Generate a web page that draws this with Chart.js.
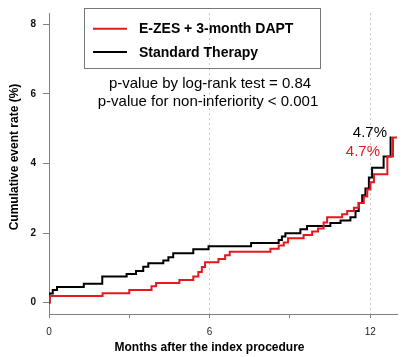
<!DOCTYPE html>
<html><head><meta charset="utf-8">
<script src="https://cdn.jsdelivr.net/npm/chart.js@4.4.1/dist/chart.umd.min.js"></script>
<style>html,body{margin:0;padding:0;background:#fff}#wrap{width:411px;height:357px;position:relative}</style>
</head><body><div id="wrap"><canvas id="c" width="411" height="357"></canvas></div>
<script>
const seriesNames = ['E-ZES + 3-month DAPT', 'Standard Therapy'];
const seriesColors = ['#e3191e', '#000000'];
const ezesMonths = [0, 0.03, 2.0, 3.0, 3.83, 4.0, 4.87, 5.39, 5.58, 5.71, 5.83, 6.33, 6.58, 6.75, 8.27, 8.58, 8.77, 8.93, 9.51, 9.83, 10.05, 10.26, 10.39, 10.95, 11.14, 11.39, 11.57, 11.76, 11.89, 12.01, 12.14, 12.64, 12.85, 13.0];
const ezesRate   = [0, 0.19, 0.27, 0.36, 0.47, 0.56, 0.65, 0.75, 0.88, 1.02, 1.16, 1.25, 1.36, 1.46, 1.55, 1.64, 1.73, 1.85, 1.94, 2.04, 2.13, 2.30, 2.45, 2.54, 2.63, 2.73, 2.86, 3.05, 3.25, 3.46, 3.69, 4.20, 4.75, 4.75];
const stdMonths  = [0, 0.02, 0.14, 0.30, 1.30, 1.99, 2.90, 3.25, 3.52, 3.71, 4.27, 4.46, 4.64, 5.39, 5.96, 7.55, 8.58, 8.70, 8.83, 9.39, 9.64, 10.51, 10.89, 11.26, 11.45, 11.57, 11.70, 11.82, 11.95, 12.07, 12.50, 12.76, 12.80];
const stdRate    = [0, 0.26, 0.36, 0.45, 0.54, 0.75, 0.82, 0.91, 1.03, 1.13, 1.21, 1.30, 1.42, 1.53, 1.62, 1.71, 1.80, 1.90, 1.99, 2.11, 2.20, 2.29, 2.36, 2.45, 2.63, 2.86, 3.09, 3.28, 3.60, 3.88, 4.20, 4.75, 4.75];
const yTicks = [0, 2, 4, 6, 8];
const xTicks = [0, 3, 6, 9, 12];
const xTickLabels = {0: '0', 6: '6', 12: '12'};
const xGridAt = [6, 12];
const pValueLines = ['p-value by log-rank test = 0.84', 'p-value for non-inferiority < 0.001'];
const finalLabels = ['4.7%', '4.7%'];
const xTitle = 'Months after the index procedure';
const yTitle = 'Cumulative event rate (%)';

const FONT = "'Liberation Sans', Arial, Helvetica, sans-serif";
const toPts = (ms, rs) => ms.map((m, i) => ({x: m, y: rs[i]}));

const overlay = {
  id: 'overlay',
  afterDraw(chart) {
    const ctx = chart.ctx;
    ctx.save();
    ctx.fillStyle = '#000';
    // y title
    ctx.save();
    ctx.translate(15, 157);
    ctx.rotate(-Math.PI / 2);
    ctx.font = 'bold 12px ' + FONT;
    ctx.textAlign = 'center';
    ctx.textBaseline = 'middle';
    ctx.fillText(yTitle, 0, 0);
    ctx.restore();
    // x title
    ctx.font = 'bold 12px ' + FONT;
    ctx.textAlign = 'center';
    ctx.textBaseline = 'middle';
    ctx.fillText(xTitle, 209.5, 348);
    // legend box
    ctx.strokeStyle = '#777';
    ctx.lineWidth = 1;
    ctx.strokeRect(84.5, 8.5, 236, 60);
    const rows = [33.3, 56.5];
    ctx.font = 'bold 14px ' + FONT;
    ctx.textAlign = 'left';
    ctx.textBaseline = 'alphabetic';
    seriesNames.forEach((n, i) => {
      ctx.strokeStyle = seriesColors[i];
      ctx.lineWidth = 2;
      ctx.beginPath();
      ctx.moveTo(93, rows[i] - 4.5);
      ctx.lineTo(127, rows[i] - 4.5);
      ctx.stroke();
      ctx.fillStyle = '#000';
      ctx.fillText(n, 139, rows[i]);
    });
    // p-values
    ctx.font = '15px ' + FONT;
    ctx.textAlign = 'center';
    ctx.fillStyle = '#000';
    ctx.fillText(pValueLines[0], 210, 87.5);
    ctx.fillText(pValueLines[1], 208, 106);
    // final labels
    ctx.textAlign = 'right';
    ctx.fillStyle = seriesColors[1];
    ctx.fillText(finalLabels[1], 387, 136.5);
    ctx.fillStyle = seriesColors[0];
    ctx.fillText(finalLabels[0], 380, 155.5);
    ctx.restore();
  }
};

new Chart(document.getElementById('c'), {
  type: 'line',
  data: {
    datasets: [
      {label: seriesNames[0], data: toPts(ezesMonths, ezesRate), borderColor: seriesColors[0], borderWidth: 2, stepped: true, pointRadius: 0, fill: false},
      {label: seriesNames[1], data: toPts(stdMonths, stdRate), borderColor: seriesColors[1], borderWidth: 2, stepped: true, pointRadius: 0, fill: false}
    ]
  },
  options: {
    responsive: false,
    animation: false,
    devicePixelRatio: 1,
    layout: {padding: {left: 0, right: 14, top: 0, bottom: 0}},
    plugins: {legend: {display: false}, tooltip: {enabled: false}},
    scales: {
      x: {
        type: 'linear', min: 0, max: 13,
        afterBuildTicks: s => { s.ticks = xTicks.map(v => ({value: v})); },
        afterFit: s => { s.height = 43; },
        ticks: {callback: v => (xTickLabels[v] !== undefined ? xTickLabels[v] : ''), font: {family: FONT, size: 10}, color: '#222', padding: 8, maxRotation: 0, autoSkip: false},
        grid: {color: c => (c.tick && xGridAt.includes(c.tick.value)) ? '#c8c8c8' : 'rgba(0,0,0,0)', tickColor: '#808080', tickLength: 4, lineWidth: 1},
        border: {color: '#808080', width: 1, dash: [2, 3]}
      },
      y: {
        type: 'linear', min: -0.33, max: 8.33,
        afterBuildTicks: s => { s.ticks = yTicks.map(v => ({value: v})); },
        afterFit: s => { s.width = 49; },
        ticks: {font: {family: FONT, size: 10, weight: 'bold'}, color: '#111', padding: 7},
        grid: {color: 'rgba(0,0,0,0)', tickColor: '#808080', tickLength: 6, lineWidth: 1},
        border: {color: '#808080', width: 1}
      }
    }
  },
  plugins: [overlay]
});
</script>
</body></html>
